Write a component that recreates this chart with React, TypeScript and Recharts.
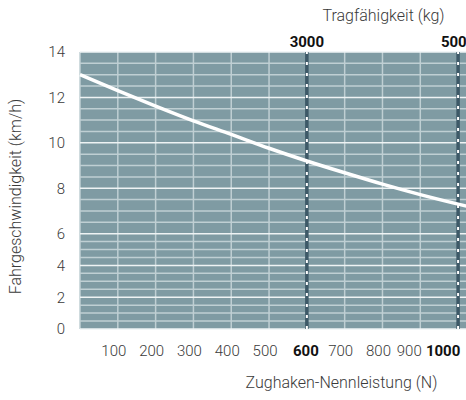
import React from "react";
import {
  LineChart,
  Line,
  XAxis,
  YAxis,
  CartesianGrid,
  ReferenceLine,
  Label,
} from "recharts";

// Zughaken-Nennleistung (N) vs Fahrgeschwindigkeit (km/h)
const FORCE = [0, 100, 200, 300, 400, 500, 600, 700, 800, 900, 1000, 1050];
const SPEED = [13.0, 12.3, 11.62, 10.97, 10.37, 9.76, 9.2, 8.68, 8.18, 7.72, 7.3, 7.1];

const X_TICKS = [100, 200, 300, 400, 500, 600, 700, 800, 900, 1000];
const BOLD_X = [600, 1000];
const Y_TICKS = [0, 2, 4, 6, 8, 10, 12, 14];

// Tragfähigkeit (kg) markers on the top edge
const LOAD_AT = [600, 1000];
const LOAD_KG = ["3000", "5000"];

// grid every 0.5 km/h
const Y_GRID = Array.from({ length: 29 }, (_, i) => i * 0.5);

// the speed axis is compressed below 6 km/h
const LOW_K = 0.7;
const toAxis = (v: number) => (v <= 6 ? v * LOW_K : 6 * LOW_K + (v - 6));

const data = FORCE.map((f, i) => ({ force: f, speed: SPEED[i] }));

const BG = "#7f9ba3";
const GRID = "#bfcfd3";
const GRID_MAJOR = "#eef3f4";
const DARK = "#3d5967";
const FONT = "Roboto, sans-serif";
const TEXT = "#3a3a3a";

const labelShift: Record<number, number> = { 600: -1, 900: -11, 1000: -15 };

const BottomTick = ({ x, y, payload }: any) => {
  const bold = BOLD_X.includes(payload.value);
  const dx = labelShift[payload.value] ?? -4;
  return (
    <text
      x={x + dx}
      y={y}
      dy={14}
      textAnchor="middle"
      fontFamily={FONT}
      fontSize={15}
      fontWeight={bold ? 700 : 300}
      fill={bold ? "#111" : TEXT}
    >
      {payload.value}
    </text>
  );
};

const titleStyle = { fontFamily: FONT, fontSize: 16, fontWeight: 300, fill: TEXT };

export default function App() {
  return (
    <div
      style={{
        position: "absolute",
        left: 0,
        top: 0,
        width: 466,
        height: 400,
        overflow: "hidden",
        background: "#fff",
      }}
    >
      <LineChart
        width={500}
        height={400}
        data={data}
        margin={{ top: 0, right: 23, bottom: 0, left: 0 }}
      >
        <CartesianGrid
          fill={BG}
          fillOpacity={1}
          horizontal={false}
          stroke={GRID}
          strokeWidth={1.5}
        />
        <XAxis
          dataKey="force"
          type="number"
          domain={[0, 1050]}
          ticks={X_TICKS}
          height={71}
          axisLine={false}
          tickLine={false}
          tickSize={0}
          tickMargin={13}
          tick={<BottomTick />}
          interval={0}
        >
          <Label
            value="Zughaken-Nennleistung (N)"
            position="insideBottom"
            offset={12}
            dx={63}
            style={titleStyle}
          />
        </XAxis>
        <XAxis
          xAxisId="top"
          orientation="top"
          type="number"
          domain={[0, 1050]}
          height={52}
          axisLine={false}
          tickLine={false}
          tick={false}
        >
          <Label
            value="Tragfähigkeit (kg)"
            position="insideTop"
            offset={10}
            dx={105}
            style={titleStyle}
          />
        </XAxis>
        <YAxis
          type="number"
          domain={[0, toAxis(14)]}
          ticks={Y_TICKS.map(toAxis)}
          tickFormatter={(_v: number, i: number) => String(Y_TICKS[i])}
          width={80}
          axisLine={false}
          tickLine={false}
          tickSize={0}
          tickMargin={15}
          interval={0}
          tick={{ fontFamily: FONT, fontSize: 15, fontWeight: 300, fill: TEXT }}
        >
          <Label
            value="Fahrgeschwindigkeit (km/h)"
            angle={-90}
            position="insideLeft"
            offset={15}
            dy={6}
            style={{ ...titleStyle, textAnchor: "middle" }}
          />
        </YAxis>
        {Y_GRID.map((v) => (
          <ReferenceLine
            key={v}
            y={toAxis(v)}
            stroke={v % 2 === 0 ? GRID_MAJOR : GRID}
            strokeWidth={1.5}
            ifOverflow="visible"
          />
        ))}
        {LOAD_AT.map((f, i) => (
          <ReferenceLine key={"d" + f} x={f} stroke={DARK} strokeWidth={3.5}>
            <Label
              value={LOAD_KG[i]}
              position="top"
              offset={5}
              style={{ fontFamily: FONT, fontSize: 15, fontWeight: 700, fill: "#111" }}
            />
          </ReferenceLine>
        ))}
        {LOAD_AT.map((f) => (
          <ReferenceLine
            key={"w" + f}
            x={f}
            stroke="#ffffff"
            strokeWidth={2}
            strokeDasharray="3 8"
          />
        ))}
        <Line
          dataKey={(d: any) => toAxis(d.speed)}
          type="monotone"
          stroke="#ffffff"
          strokeWidth={3.5}
          dot={false}
          isAnimationActive={false}
        />
      </LineChart>
    </div>
  );
}
